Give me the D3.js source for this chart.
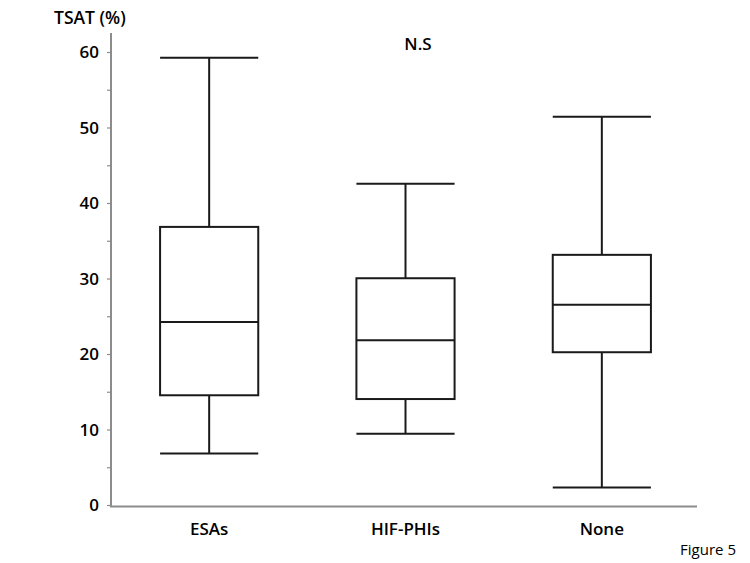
<!DOCTYPE html>
<html>
<head>
<meta charset="utf-8">
<script src="https://cdn.jsdelivr.net/npm/d3@7"></script>
<style>
  body { margin: 0; background: #fff; }
  text { font-family: "Open Sans", "Liberation Sans", sans-serif; fill: #000; }
</style>
</head>
<body>
<script>
// groups and their box stats (TSAT %)
var groups = ["ESAs", "HIF-PHIs", "None"];
var mins = [6.9, 9.5, 2.4];
var q1s = [14.6, 14.1, 20.3];
var medians = [24.3, 21.9, 26.6];
var q3s = [36.9, 30.1, 33.2];
var maxs = [59.3, 42.6, 51.5];
var yTicks = [0, 10, 20, 30, 40, 50, 60];

var width = 750, height = 563;
var svg = d3.select("body").append("svg")
    .attr("width", width)
    .attr("height", height);

var x = d3.scaleBand().domain(groups).range([111, 700]).paddingInner(0.5).paddingOuter(0.25);
var y = d3.scaleLinear().domain([0, 60]).range([505.5, 52.5]);

// y axis: gray line + minor ticks every 5
var axisColor = "#8c8c8c";
svg.append("line")
    .attr("x1", 111).attr("x2", 111)
    .attr("y1", 33).attr("y2", y(0) + 1)
    .attr("stroke", axisColor).attr("stroke-width", 2);

svg.selectAll(".tick5")
    .data(d3.range(0, 61, 5))
    .enter().append("line")
    .attr("x1", 107).attr("x2", 111)
    .attr("y1", function(d) { return y(d); })
    .attr("y2", function(d) { return y(d); })
    .attr("stroke", axisColor).attr("stroke-width", 1.2);

svg.selectAll(".ylab")
    .data(yTicks)
    .enter().append("text")
    .attr("x", 99)
    .attr("y", function(d) { return y(d); })
    .attr("dy", "0.35em")
    .attr("text-anchor", "end")
    .attr("font-size", "17px")
    .attr("font-weight", 600)
    .text(function(d) { return d; });

// x axis
svg.append("line")
    .attr("x1", 110).attr("x2", 697)
    .attr("y1", y(0) + 1).attr("y2", y(0) + 1)
    .attr("stroke", axisColor).attr("stroke-width", 2);

svg.selectAll(".xlab")
    .data(groups)
    .enter().append("text")
    .attr("x", function(d) { return x(d) + x.bandwidth() / 2; })
    .attr("y", 535)
    .attr("text-anchor", "middle")
    .attr("font-size", "17px")
    .attr("font-weight", 600)
    .text(function(d) { return d; });

// boxes
var g = svg.selectAll(".box")
    .data(groups)
    .enter().append("g")
    .attr("transform", function(d) { return "translate(" + x(d) + ",0)"; });

var bw = x.bandwidth();
var stroke = "#1a1a1a";

g.append("line") // whisker
    .attr("x1", bw / 2).attr("x2", bw / 2)
    .attr("y1", function(d, i) { return y(maxs[i]); })
    .attr("y2", function(d, i) { return y(mins[i]); })
    .attr("stroke", stroke).attr("stroke-width", 2);

g.append("rect")
    .attr("x", 0)
    .attr("width", bw)
    .attr("y", function(d, i) { return y(q3s[i]); })
    .attr("height", function(d, i) { return y(q1s[i]) - y(q3s[i]); })
    .attr("fill", "#fff")
    .attr("stroke", stroke).attr("stroke-width", 2);

g.append("line") // median
    .attr("x1", 0).attr("x2", bw)
    .attr("y1", function(d, i) { return y(medians[i]); })
    .attr("y2", function(d, i) { return y(medians[i]); })
    .attr("stroke", stroke).attr("stroke-width", 2);

g.append("line") // top cap
    .attr("x1", 0).attr("x2", bw)
    .attr("y1", function(d, i) { return y(maxs[i]); })
    .attr("y2", function(d, i) { return y(maxs[i]); })
    .attr("stroke", stroke).attr("stroke-width", 2);

g.append("line") // bottom cap
    .attr("x1", 0).attr("x2", bw)
    .attr("y1", function(d, i) { return y(mins[i]); })
    .attr("y2", function(d, i) { return y(mins[i]); })
    .attr("stroke", stroke).attr("stroke-width", 2);

// texts
svg.append("text")
    .attr("x", 54).attr("y", 24)
    .attr("font-size", "17.5px")
    .attr("font-weight", 600)
    .text("TSAT (%)");

svg.append("text")
    .attr("x", 418).attr("y", 50)
    .attr("text-anchor", "middle")
    .attr("font-size", "17px")
    .attr("font-weight", 600)
    .text("N.S");

svg.append("text")
    .attr("x", 736).attr("y", 555)
    .attr("text-anchor", "end")
    .attr("font-size", "15px")
    .text("Figure 5");
</script>
</body>
</html>
